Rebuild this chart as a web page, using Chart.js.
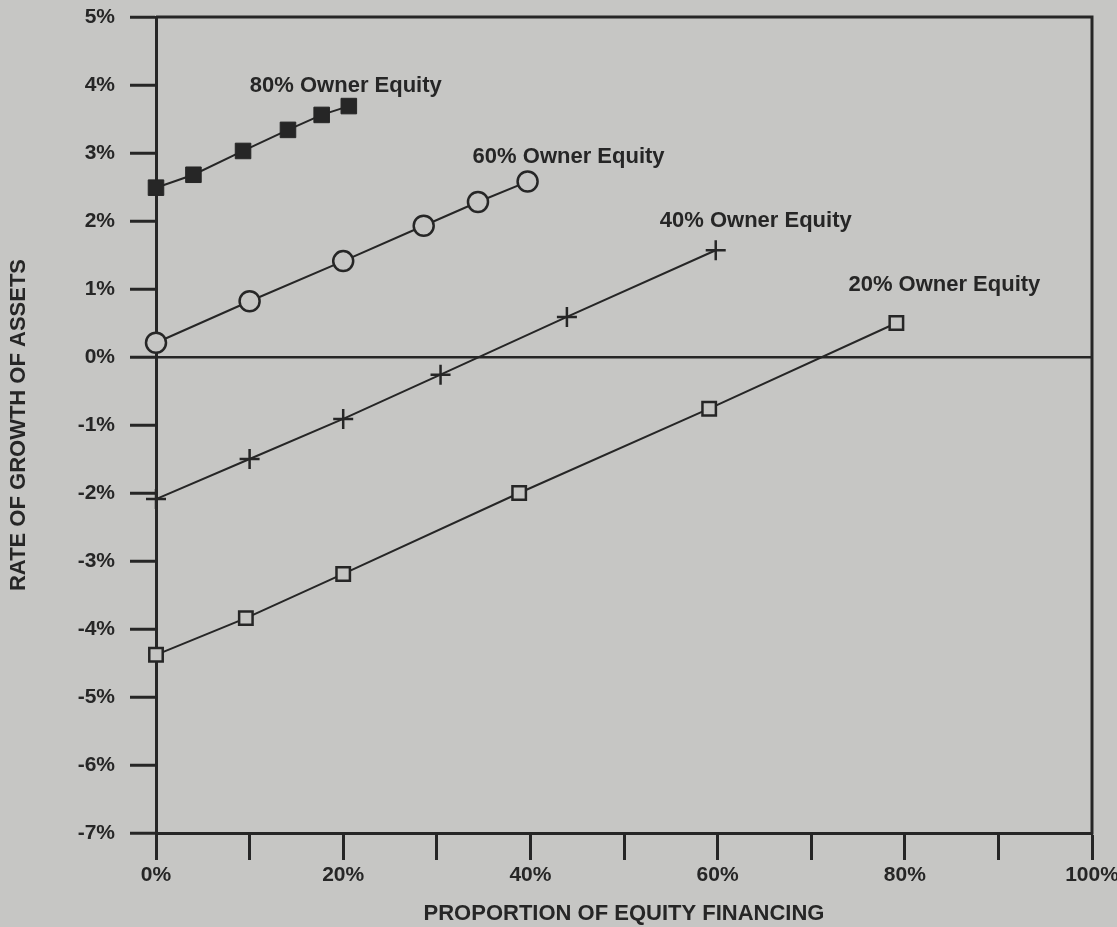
<!DOCTYPE html>
<html>
<head>
<meta charset="utf-8">
<script src="https://cdn.jsdelivr.net/npm/chart.js@4"></script>
<style>
  html, body { margin: 0; padding: 0; background: #c6c6c4; }
  canvas { display: block; }
</style>
</head>
<body>
<canvas id="growth" width="1117" height="927"></canvas>
<script>
// proportion of equity financing (%) and rate of growth of assets (%)
const eq80X = [0, 4, 9.3, 14.1, 17.7, 20.6];
const eq80Y = [2.49, 2.68, 3.03, 3.34, 3.56, 3.69];

const eq60X = [0, 10, 20, 28.6, 34.4, 39.7];
const eq60Y = [0.21, 0.82, 1.41, 1.93, 2.28, 2.58];

const eq40X = [0, 10, 20, 30.4, 43.9, 59.8];
const eq40Y = [-2.09, -1.5, -0.91, -0.26, 0.59, 1.57];

const eq20X = [0, 9.6, 20, 38.8, 59.1, 79.1];
const eq20Y = [-4.38, -3.84, -3.19, -2.0, -0.76, 0.5];

const seriesNames = ['80% Owner Equity', '60% Owner Equity', '40% Owner Equity', '20% Owner Equity'];
const yTicks = [-7, -6, -5, -4, -3, -2, -1, 0, 1, 2, 3, 4, 5];
const xTicks = [0, 10, 20, 30, 40, 50, 60, 70, 80, 90, 100];

const ink = '#262626';
const paper = '#c6c6c4';
// where each series name sits, relative to its last point (px)
const labelOffsets = [[-3, -20], [41, -25], [40, -29], [48, -38]];

function pts(xs, ys) {
    return xs.map((x, i) => ({ x: x, y: ys[i] }));
}

Chart.defaults.font.family = '"Liberation Sans", Arial, sans-serif';
Chart.defaults.color = ink;

const seriesLabels = {
    id: 'seriesLabels',
    afterDatasetsDraw(chart) {
        const ctx = chart.ctx;
        chart.data.datasets.forEach((ds, i) => {
            const meta = chart.getDatasetMeta(i);
            const last = meta.data[meta.data.length - 1];
            ctx.save();
            ctx.font = 'bold 22px "Liberation Sans", Arial, sans-serif';
            ctx.fillStyle = ink;
            ctx.textAlign = 'center';
            ctx.textBaseline = 'middle';
            ctx.fillText(ds.label, last.x + labelOffsets[i][0], last.y + labelOffsets[i][1]);
            ctx.restore();
        });
    }
};

const frame = {
    id: 'frame',
    beforeDraw(chart) {
        const ctx = chart.ctx;
        ctx.save();
        ctx.fillStyle = paper;
        ctx.fillRect(0, 0, chart.width, chart.height);
        ctx.restore();
    },
    afterDraw(chart) {
        const a = chart.chartArea;
        const ctx = chart.ctx;
        ctx.save();
        ctx.strokeStyle = ink;
        ctx.lineWidth = 3;
        ctx.beginPath();
        ctx.moveTo(a.left, a.top);
        ctx.lineTo(a.right, a.top);
        ctx.lineTo(a.right, a.bottom + 1.5);
        ctx.stroke();
        ctx.restore();
    }
};

const ctx = document.getElementById('growth').getContext('2d');
const growthChart = new Chart(ctx, {
    type: 'scatter',
    data: {
        datasets: [
            {
                label: seriesNames[0],
                data: pts(eq80X, eq80Y),
                pointStyle: 'rect',
                pointRadius: 11,
                pointBackgroundColor: ink,
                pointBorderColor: ink,
                pointBorderWidth: 1,
            },
            {
                label: seriesNames[1],
                data: pts(eq60X, eq60Y),
                pointStyle: 'circle',
                pointRadius: 10,
                pointBackgroundColor: paper,
                pointBorderColor: ink,
                pointBorderWidth: 2.5,
            },
            {
                label: seriesNames[2],
                data: pts(eq40X, eq40Y),
                pointStyle: 'cross',
                pointRadius: 10,
                pointBorderColor: ink,
                pointBorderWidth: 2.5,
            },
            {
                label: seriesNames[3],
                data: pts(eq20X, eq20Y),
                pointStyle: 'rect',
                pointRadius: 9.5,
                pointBackgroundColor: paper,
                pointBorderColor: ink,
                pointBorderWidth: 2.5,
            }
        ].map(ds => Object.assign({
            showLine: true,
            borderColor: ink,
            borderWidth: 2,
            tension: 0,
            clip: false,
        }, ds))
    },
    options: {
        responsive: false,
        animation: false,
        layout: { padding: { top: 17, right: 25, left: 0, bottom: 0 } },
        plugins: {
            legend: { display: false },
            tooltip: { enabled: false },
        },
        scales: {
            x: {
                type: 'linear',
                min: 0,
                max: 100,
                afterFit: (scale) => {
                    scale.height = 94;
                    scale.paddingLeft = 0;
                    scale.paddingRight = 0;
                },
                afterBuildTicks: (scale) => { scale.ticks = xTicks.map(v => ({ value: v })); },
                border: { display: true, color: ink, width: 3 },
                grid: {
                    drawOnChartArea: false,
                    drawTicks: true,
                    tickLength: 27,
                    tickWidth: 3,
                    tickColor: ink,
                },
                ticks: {
                    padding: 3,
                    maxRotation: 0,
                    autoSkip: false,
                    font: { size: 21, weight: 'bold' },
                    color: ink,
                    callback: (v) => (v % 20 === 0 ? v + '%' : ''),
                },
                title: {
                    display: true,
                    text: 'PROPORTION OF EQUITY FINANCING',
                    font: { size: 22, weight: 'bold' },
                    color: ink,
                    padding: { top: 0, bottom: 0 },
                },
            },
            y: {
                type: 'linear',
                min: -7,
                max: 5,
                afterFit: (scale) => {
                    scale.width = 156;
                    scale.paddingTop = 0;
                    scale.paddingBottom = 0;
                },
                afterBuildTicks: (scale) => { scale.ticks = yTicks.map(v => ({ value: v })); },
                border: { display: true, color: ink, width: 3 },
                grid: {
                    drawOnChartArea: true,
                    drawTicks: true,
                    tickLength: 26,
                    tickColor: ink,
                    tickWidth: 3,
                    color: (c) => (c.tick && c.tick.value === 0 ? ink : 'rgba(0,0,0,0)'),
                    lineWidth: 2.5,
                },
                ticks: {
                    padding: 15,
                    autoSkip: false,
                    font: { size: 21, weight: 'bold' },
                    color: ink,
                    callback: (v) => v + '%',
                },
                title: {
                    display: true,
                    text: 'RATE OF GROWTH OF ASSETS',
                    font: { size: 22, weight: 'bold' },
                    color: ink,
                    padding: { top: 6, bottom: 0 },
                },
            }
        }
    },
    plugins: [frame, seriesLabels]
});
</script>
</body>
</html>
